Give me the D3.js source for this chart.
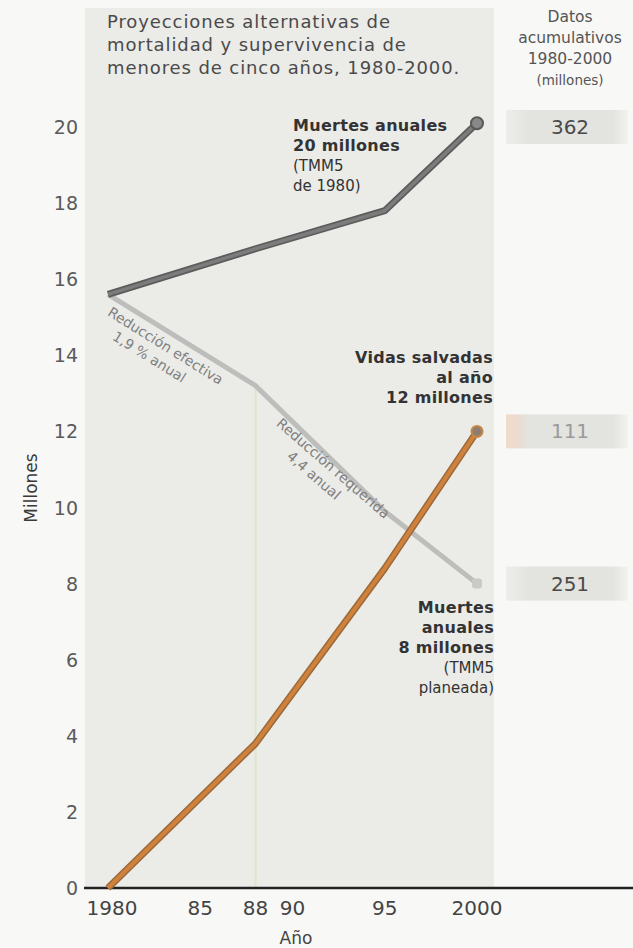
<!DOCTYPE html>
<html>
<head>
<meta charset="utf-8">
<script src="https://cdn.jsdelivr.net/npm/d3@7"></script>
<style>
  html, body { margin: 0; padding: 0; background: #f8f8f6; }
  svg { display: block; font-family: "DejaVu Sans", "Noto Sans", sans-serif; }
</style>
</head>
<body>
<svg id="chart"></svg>
<script>
// ---- data ----
const years = [1980, 1988, 1995, 2000];
const muertesBase = [15.6, 16.8, 17.8, 20.1];   // TMM5 de 1980
const muertesPlan = [15.6, 13.2, 9.9, 8.0];     // TMM5 planeada
const vidasSalvadas = [0, 3.8, 8.4, 12.0];
const xTicks = [1980, 1985, 1988, 1990, 1995, 2000];
const xTickLabels = ["1980", "85", "88", "90", "95", "2000"];
const yTicks = [0, 2, 4, 6, 8, 10, 12, 14, 16, 18, 20];
const acumLabels = ["362", "111", "251"];
const acumValues = [20, 12, 8];
const titleLines = ["Proyecciones alternativas de", "mortalidad y supervivencia de", "menores de cinco años, 1980-2000."];
const acumHeader = ["Datos", "acumulativos", "1980-2000", "(millones)"];

const width = 633, height = 948;
const svg = d3.select("#chart").attr("width", width).attr("height", height);

const x = d3.scaleLinear().domain([1980, 2000]).range([108, 477]);
const y = d3.scaleLinear().domain([0, 20]).range([888, 127]);

// gradients for the cumulative boxes
const defs = svg.append("defs");
function boxGrad(id, left) {
  const g = defs.append("linearGradient").attr("id", id);
  g.append("stop").attr("offset", "0%").attr("stop-color", left).attr("stop-opacity", 0.5);
  g.append("stop").attr("offset", "18%").attr("stop-color", "#e3e3df");
  g.append("stop").attr("offset", "88%").attr("stop-color", "#e3e3df");
  g.append("stop").attr("offset", "100%").attr("stop-color", "#e8e8e4").attr("stop-opacity", 0.4);
}
boxGrad("g0", "#e3e3df");
boxGrad("g1", "#eac2a6");
boxGrad("g2", "#e3e3df");

// panel
svg.append("rect").attr("x", 85).attr("y", 8).attr("width", 409).attr("height", 880).attr("fill", "#ebebe8");

// 1988 reference line
svg.append("line")
  .attr("x1", x(1988)).attr("x2", x(1988))
  .attr("y1", y(muertesPlan[1])).attr("y2", y(0))
  .attr("stroke", "#e0e6cc").attr("stroke-width", 2);

// title
svg.append("text").attr("fill", "#4a4a4a").style("font-size", "18px").style("letter-spacing", "0.9px")
  .selectAll("tspan").data(titleLines).join("tspan")
  .attr("x", 107).attr("y", (d, i) => 28 + i * 23).text(d => d);

// cumulative header
svg.append("text").attr("text-anchor", "middle").attr("fill", "#555")
  .selectAll("tspan").data(acumHeader).join("tspan")
  .attr("x", 570).attr("y", (d, i) => 22 + i * 21)
  .style("font-size", (d, i) => i === 3 ? "13.5px" : "15.5px").text(d => d);

// cumulative boxes
acumLabels.forEach((lab, i) => {
  svg.append("rect").attr("x", 506).attr("y", y(acumValues[i]) - 17)
    .attr("width", 122).attr("height", 34).attr("fill", `url(#g${i})`);
  svg.append("text").attr("x", 570).attr("y", y(acumValues[i]) + 7)
    .attr("text-anchor", "middle").attr("fill", i === 1 ? "#9a9a9a" : "#4a4a4a")
    .style("font-size", "20px").text(lab);
});

// y axis labels
svg.append("g").selectAll("text").data(yTicks).join("text")
  .attr("x", 78).attr("y", d => y(d) + 7)
  .attr("text-anchor", "end").attr("fill", "#5a5a5a").style("font-size", "19px")
  .text(d => d);
svg.append("text").attr("transform", "translate(37,488) rotate(-90)")
  .attr("text-anchor", "middle").attr("fill", "#3a3a3a").style("font-size", "17px").text("Millones");

// x axis
svg.append("line").attr("x1", 84).attr("x2", 633).attr("y1", y(0)).attr("y2", y(0))
  .attr("stroke", "#222").attr("stroke-width", 2.5);
svg.append("g").selectAll("text").data(xTicks).join("text")
  .attr("x", (d, i) => x(d) + (i === 0 ? 4 : 0)).attr("y", y(0) + 27)
  .attr("text-anchor", "middle").attr("fill", "#444").style("font-size", "20px")
  .text((d, i) => xTickLabels[i]);
svg.append("text").attr("x", 296).attr("y", 944).attr("text-anchor", "middle")
  .attr("fill", "#444").style("font-size", "17px").text("Año");

// lines
const line = d3.line().x(d => x(d[0])).y(d => y(d[1]));
const base = years.map((yr, i) => [yr, muertesBase[i]]);
const plan = years.map((yr, i) => [yr, muertesPlan[i]]);
const saved = years.map((yr, i) => [yr, vidasSalvadas[i]]);

svg.append("path").attr("d", line(plan)).attr("fill", "none")
  .attr("stroke", "#bdbdbb").attr("stroke-width", 5).attr("stroke-linejoin", "round");
svg.append("rect").attr("x", x(2000) - 5).attr("y", y(8) - 5).attr("width", 10).attr("height", 10)
  .attr("rx", 3).attr("fill", "#cacac7");

svg.append("path").attr("d", line(base)).attr("fill", "none")
  .attr("stroke", "#5c5c5c").attr("stroke-width", 7).attr("stroke-linejoin", "round");
svg.append("path").attr("d", line(base)).attr("fill", "none")
  .attr("stroke", "#7c7c7c").attr("stroke-width", 3.5).attr("stroke-linejoin", "round");
svg.append("circle").attr("cx", x(2000)).attr("cy", y(muertesBase[3])).attr("r", 6)
  .attr("fill", "#888").attr("stroke", "#5a5a5a").attr("stroke-width", 2);

svg.append("path").attr("d", line(saved)).attr("fill", "none")
  .attr("stroke", "#9a6a3a").attr("stroke-width", 7).attr("stroke-linejoin", "round");
svg.append("path").attr("d", line(saved)).attr("fill", "none")
  .attr("stroke", "#d0823c").attr("stroke-width", 4).attr("stroke-linejoin", "round");
svg.append("circle").attr("cx", x(2000)).attr("cy", y(vidasSalvadas[3])).attr("r", 5.5)
  .attr("fill", "#8e7e70").attr("stroke", "#c88746").attr("stroke-width", 2);

// annotations
function block(xp, yp, anchor, rows) {
  const t = svg.append("text").attr("text-anchor", anchor).attr("fill", "#333");
  rows.forEach((r, i) => {
    t.append("tspan").attr("x", xp).attr("y", yp + i * 20)
      .style("font-size", r.bold ? "16px" : "15px")
      .style("letter-spacing", r.bold ? "0.3px" : "0")
      .style("font-weight", r.bold ? "bold" : "normal").text(r.t);
  });
}
block(293, 131, "start", [
  { t: "Muertes anuales", bold: true }, { t: "20 millones", bold: true },
  { t: "(TMM5", bold: false }, { t: "de 1980)", bold: false }]);
block(493, 363, "end", [
  { t: "Vidas salvadas", bold: true }, { t: "al año", bold: true }, { t: "12 millones", bold: true }]);
block(494, 613, "end", [
  { t: "Muertes", bold: true }, { t: "anuales", bold: true }, { t: "8 millones", bold: true },
  { t: "(TMM5", bold: false }, { t: "planeada)", bold: false }]);

function slanted(cx, cy, ang, rows) {
  const t = svg.append("text").attr("transform", `translate(${cx},${cy}) rotate(${ang})`)
    .attr("text-anchor", "middle").attr("fill", "#808080").style("font-size", "14px");
  rows.forEach((r, i) => t.append("tspan").attr("x", r.dx).attr("y", i * 18).text(r.t));
}
slanted(163, 350, 32, [{ t: "Reducción efectiva", dx: 0 }, { t: "1,9 % anual", dx: -8 }]);
slanted(330, 472, 41, [{ t: "Reducción requerida", dx: 0 }, { t: "4,4 anual", dx: -10 }]);
</script>
</body>
</html>
